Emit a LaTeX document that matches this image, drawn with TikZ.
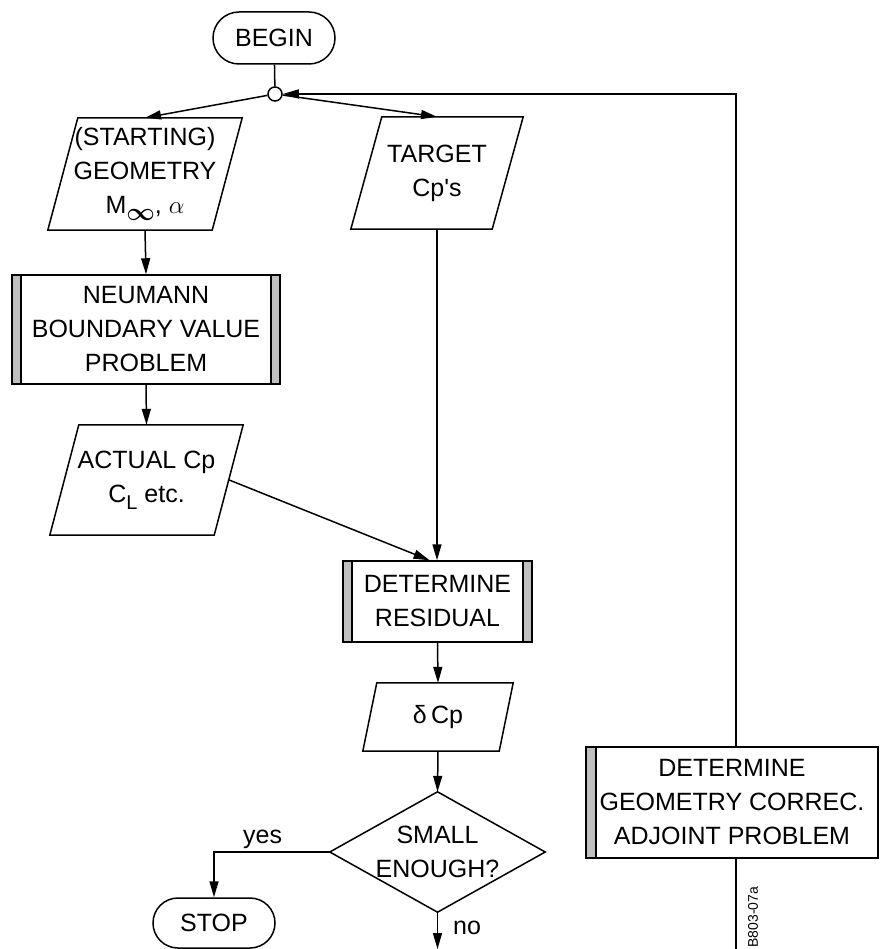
\documentclass[tikz,border=0pt]{standalone}
\usepackage{fontspec}
\setmainfont{Liberation Sans}
\usetikzlibrary{arrows.meta,shapes.misc,calc}
\begin{document}
\begin{tikzpicture}[x=1pt,y=-1pt,
  every node/.style={font=\fontsize{25}{34}\selectfont, inner sep=0pt, align=center},
  ln/.style={line width=1.5pt},
  arr/.style={ln, -{Triangle[length=16pt,width=9pt]}},
  term/.style={draw, ln, rounded rectangle},
  frame/.style={draw=none, rectangle},
  procbox/.style={draw, ln, rectangle},
  barfill/.style={fill=black!25},
  bothbars/.style={path picture={
    \fill[barfill] (path picture bounding box.north west) rectangle ($(path picture bounding box.south west)+(9,0)$);
    \draw[ln] ($(path picture bounding box.north west)+(9,0)$) -- ($(path picture bounding box.south west)+(9,0)$);
    \fill[barfill] (path picture bounding box.north east) rectangle ($(path picture bounding box.south east)+(-9,0)$);
    \draw[ln] ($(path picture bounding box.north east)+(-9,0)$) -- ($(path picture bounding box.south east)+(-9,0)$);
  }},
  leftbar/.style={path picture={
    \fill[barfill] (path picture bounding box.north west) rectangle ($(path picture bounding box.south west)+(10,0)$);
    \draw[ln] ($(path picture bounding box.north west)+(10,0)$) -- ($(path picture bounding box.south west)+(10,0)$);
  }},
]
\useasboundingbox (0,0) rectangle (879,949);

% nodes
\node[term, minimum width=122pt, minimum height=52pt] (begin) at (274,38) {BEGIN};
\node[circle, draw, ln, minimum size=14pt] (junc) at (275,94) {};

\node[frame, minimum width=194pt, minimum height=112pt] (geo) at (145,174)
  {(STARTING)\\GEOMETRY\\M\raisebox{-7pt}{\fontsize{24}{24}\selectfont\boldmath$\infty$}, $\alpha$};
\draw[ln] ($(geo.north west)+(30,0)$) -- (geo.north east) -- ($(geo.south east)+(-30,0)$) -- (geo.south west) -- cycle;

\node[frame, minimum width=172pt, minimum height=112pt] (tgt) at (437,173) {TARGET\\Cp\textquotesingle s};
\draw[ln] ($(tgt.north west)+(31,0)$) -- (tgt.north east) -- ($(tgt.south east)+(-31,0)$) -- (tgt.south west) -- cycle;

\node[procbox, bothbars, minimum width=268pt, minimum height=109pt] (neu) at (146,329.5)
  {NEUMANN\\BOUNDARY VALUE\\PROBLEM};

\node[frame, minimum width=193pt, minimum height=110pt] (act) at (146.5,480)
  {ACTUAL Cp\\C\raisebox{-7pt}{\fontsize{20}{20}\selectfont L} etc.};
\draw[ln] ($(act.north west)+(29,0)$) -- (act.north east) -- ($(act.south east)+(-29,0)$) -- (act.south west) -- cycle;

\node[procbox, bothbars, minimum width=189pt, minimum height=81pt] (resid) at (437.5,601.5)
  {DETERMINE\\RESIDUAL};

\node[frame, minimum width=150pt, minimum height=68pt] (dcp) at (438,717) {δ\,Cp};
\draw[ln] ($(dcp.north west)+(14,0)$) -- (dcp.north east) -- ($(dcp.south east)+(-14,0)$) -- (dcp.south west) -- cycle;

\node[frame, minimum width=215pt, minimum height=120pt] (dia) at (437.5,852) {SMALL\\ENOUGH?};
\draw[ln] (dia.north) -- (dia.east) -- (dia.south) -- (dia.west) -- cycle;

\node[term, minimum width=122pt, minimum height=50pt] (stop) at (214,923) {STOP};

\node[procbox, leftbar, minimum width=292pt, minimum height=111pt] (adj) at (732,802.5)
  {DETERMINE\\GEOMETRY CORREC.\\ADJOINT PROBLEM};

\node[rotate=90, font=\fontsize{14}{14}\selectfont] (code) at (753,917) {B803-07a};
\node (nolab) at (467,928) {no};

\coordinate (noend) at (437.5,949);
\coordinate (adjend) at (736,949);

% connectors
\draw[ln] (begin) -- (junc);
\draw[arr] (junc) -- (geo.north);
\draw[arr] (junc) -- (tgt.north);
\draw[arr] (geo.south) -- (neu.north);
\draw[arr] (neu.south) -- (act.north);
\draw[arr] ($(act.east)+(-14,0)$) -- ($(resid.north)+(-8,0)$);
\draw[arr] (tgt.south) -- (tgt.south |- resid.north);
\draw[arr] (resid.south) -- (dcp.north);
\draw[arr] (dcp.south) -- (dia.north);
\draw[arr] (dia.west) -| (stop.north) node[pos=0.29, above=3pt] (yeslab) {yes};
\draw[arr] (dia.south) -- (noend);
\draw[ln] ($(adj.south)+(4,0)$) -- (adjend);
\draw[arr] ($(adj.north)+(4,0)$) |- (junc.east);
\end{tikzpicture}
\end{document}
